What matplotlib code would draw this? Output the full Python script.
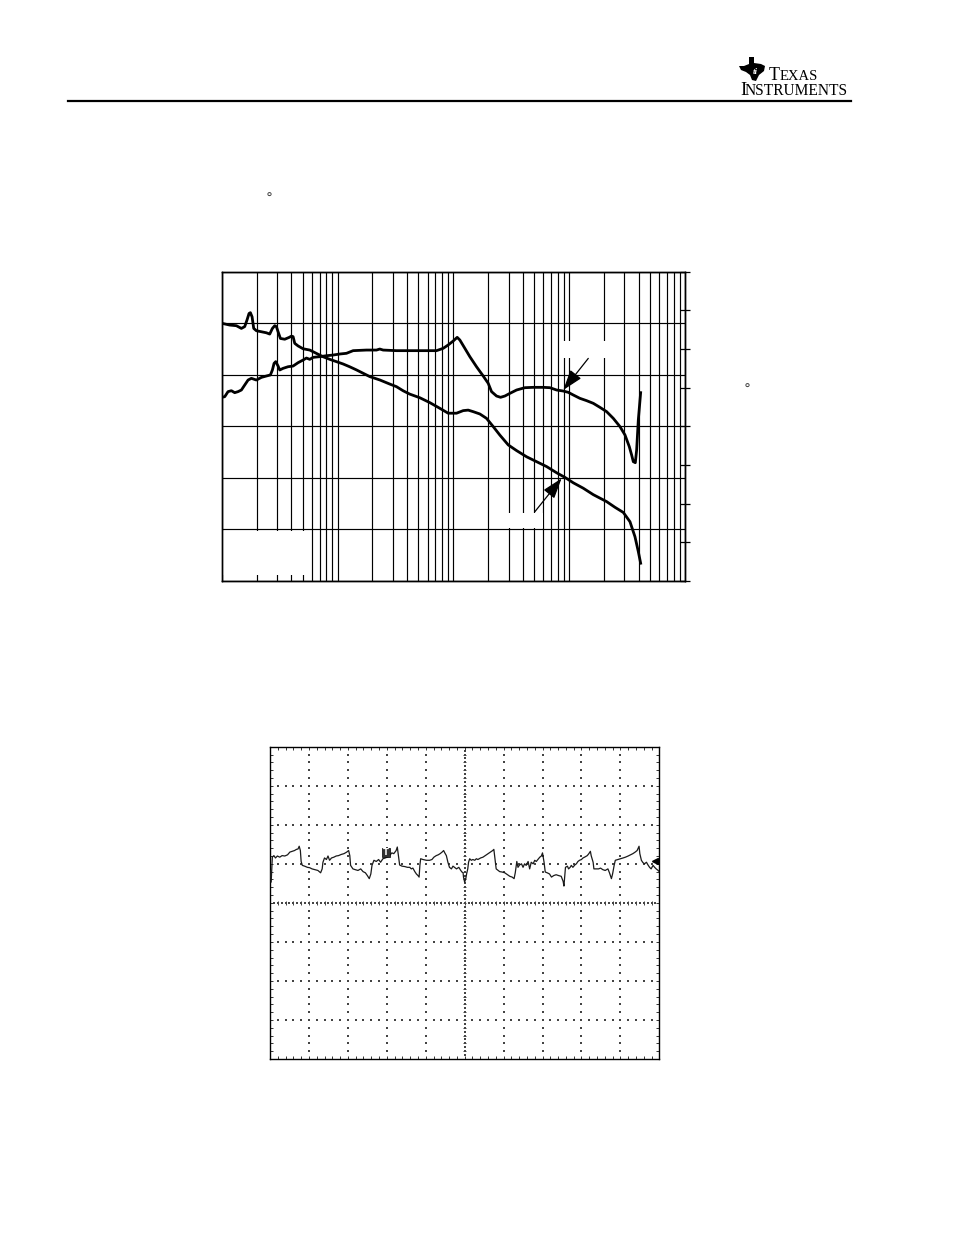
import numpy as np
import matplotlib
matplotlib.use('Agg')
import matplotlib.pyplot as plt
from matplotlib.patches import Rectangle, Polygon
from matplotlib.lines import Line2D
from matplotlib.ticker import LogLocator

W, H = 954, 1235

# Loop gain (dB) vs frequency (Hz)
gain_freq = [100, 117.2, 133.9, 147.9, 158.0, 165.5, 172.2, 176.9, 182.9, 189.0,
             199.3, 220.2, 243.2, 259.8, 274.0, 287.0, 296.7, 306.7, 321.3, 350.2,
             381.8, 399.9, 413.4, 427.3, 456.5, 504.3, 575.8, 657.5, 750.5, 857.0,
             978.6, 1117, 1276, 1457, 1663, 1899, 2317, 2828, 3228, 3686,
             4209, 5135, 6266, 7644, 9021, 10650, 12160, 13430, 14840, 16940,
             19340, 22090, 25220, 29770, 35140, 42870, 52300, 63810, 77850, 91900,
             108500, 132300, 161500, 210600, 248500, 293300, 334900, 369800, 395300, 414000]
gain_db = [40.0, 39.3, 39.05, 38.0, 38.7, 41.3, 43.8, 44.1, 42.5, 38.0,
           37.1, 36.7, 36.3, 35.8, 38.0, 39.05, 38.7, 36.7, 34.1, 33.8,
           34.5, 35.0, 34.8, 32.2, 31.2, 30.1, 29.6, 28.3, 27.0, 26.0,
           25.1, 24.2, 23.1, 21.9, 20.6, 19.3, 18.0, 16.4, 15.4, 13.8,
           12.5, 11.1, 9.2, 7.0, 5.1, 5.1, 6.1, 6.3, 5.7, 4.8,
           3.1, -0.1, -3.4, -7.2, -9.4, -11.8, -13.7, -15.6, -18.0, -19.8,
           -21.9, -24.0, -26.5, -29.2, -31.4, -33.4, -37.0, -42.8, -48.6, -53.1]

# Loop phase (deg) vs frequency (Hz)
phase_freq = [100, 106.2, 113.4, 121.2, 129.5, 138.4, 147.9, 158.0, 168.9, 180.4,
              199.3, 220.2, 243.2, 263.3, 274.0, 283.2, 292.8, 306.7, 317.0, 338.8,
              374.2, 413.4, 456.5, 504.3, 538.9, 575.8, 615.2, 702.5, 802.1, 915.9,
              1046, 1194, 1364, 1777, 2169, 2317, 2476, 3228, 4209, 5488,
              7155, 8171, 9021, 9966, 10790, 11380, 12570, 13880, 15850, 18100,
              20000, 21370, 23600, 25560, 27860, 30770, 35140, 41470, 48940, 59720,
              68190, 77850, 88900, 98200, 108500, 123800, 141400, 161500, 184400, 210600,
              240400, 274500, 303200, 330400, 346100, 357800, 372400, 382400, 395300, 414000]
phase_deg = [33.8, 34.5, 40.4, 41.5, 39.2, 40.4, 42.3, 48.1, 53.9, 55.9,
             53.9, 57.0, 58.6, 59.8, 65.6, 73.3, 75.3, 70.2, 65.6, 67.5,
             69.4, 70.2, 74.1, 77.2, 79.5, 78.0, 80.3, 81.1, 82.2, 83.0,
             84.2, 85.0, 88.1, 88.8, 88.8, 90.0, 88.8, 88.1, 88.1, 88.1,
             88.1, 90.8, 94.7, 99.3, 103.6, 100.5, 90.8, 81.1, 69.4, 58.6,
             50.1, 40.4, 35.3, 33.8, 35.3, 38.4, 42.3, 45.0, 45.4, 45.4,
             45.0, 42.3, 41.1, 39.6, 36.5, 32.6, 29.9, 26.8, 22.1, 17.1,
             9.3, -0.3, -10.0, -23.6, -33.3, -41.1, -42.3, -27.5, 7.4, 39.2]

# Output ripple scope trace (time in divisions, amplitude in divisions)
trace_t = [0.00, 0.02, 0.03, 0.06, 0.10, 0.14, 0.19, 0.25, 0.31, 0.38,
           0.45, 0.51, 0.57, 0.63, 0.68, 0.72, 0.75, 0.78, 0.80, 0.83,
           0.89, 0.96, 1.02, 1.08, 1.15, 1.23, 1.30, 1.34, 1.36, 1.40,
           1.45, 1.49, 1.53, 1.58, 1.64, 1.70, 1.76, 1.83, 1.90, 1.97,
           2.02, 2.05, 2.07, 2.13, 2.19, 2.26, 2.33, 2.39, 2.45, 2.50,
           2.55, 2.59, 2.62, 2.67, 2.73, 2.79, 2.84, 2.90, 2.96, 3.01,
           3.07, 3.13, 3.18, 3.24, 3.27, 3.30, 3.33,
           3.39, 3.46, 3.53, 3.59, 3.63, 3.67, 3.72, 3.76, 3.80, 3.83,
           3.85, 3.87, 3.93, 4.02, 4.10, 4.16, 4.21, 4.27, 4.32, 4.37,
           4.42, 4.46, 4.49, 4.53, 4.57, 4.61, 4.66, 4.70, 4.74, 4.79,
           4.85, 4.90, 4.93, 4.96, 4.97, 5.00, 5.03, 5.05, 5.08, 5.10,
           5.13, 5.17, 5.21, 5.26, 5.30, 5.34, 5.41, 5.47, 5.53, 5.60,
           5.67, 5.72, 5.75, 5.79, 5.81, 5.86, 5.90, 5.96, 6.03, 6.10,
           6.16, 6.22, 6.27, 6.30, 6.34, 6.37, 6.41, 6.46, 6.50, 6.54,
           6.58, 6.63, 6.67,
           6.71, 6.76, 6.80, 6.84, 6.88, 6.93, 6.97, 7.00, 7.04, 7.07,
           7.12, 7.18, 7.23, 7.29, 7.35, 7.41, 7.48, 7.53, 7.55, 7.57,
           7.59, 7.64, 7.67, 7.71, 7.74, 7.78, 7.83, 7.87, 7.91, 7.95,
           8.00, 8.04, 8.08, 8.15, 8.19, 8.23, 8.25, 8.30, 8.32, 8.38,
           8.44, 8.49, 8.55, 8.61, 8.68, 8.72, 8.77, 8.80, 8.84, 8.87,
           8.94, 9.01, 9.07, 9.13, 9.20, 9.26, 9.32, 9.38, 9.43, 9.48,
           9.50, 9.54, 9.58, 9.62, 9.67, 9.71, 9.75, 9.79, 9.84, 9.88,
           9.92, 9.97, 10.00]
trace_v = [0.83, 0.62, 0.53, 1.17, 1.21, 1.15, 1.20, 1.17, 1.21, 1.20,
           1.23, 1.30, 1.32, 1.34, 1.37, 1.38, 1.45, 1.34, 1.06, 0.96,
           0.94, 0.91, 0.90, 0.87, 0.85, 0.83, 0.77, 0.87, 1.04, 1.15,
           1.11, 1.20, 1.09, 1.15, 1.17, 1.20, 1.21, 1.24, 1.26, 1.30,
           1.34, 1.21, 0.96, 0.87, 0.85, 0.83, 0.87, 0.80, 0.77, 0.70,
           0.62, 0.74, 0.96, 1.09, 1.06, 1.11, 1.04, 1.13, 1.15, 1.17,
           1.21, 1.28, 1.26, 1.34, 1.43, 1.21, 0.97,
           0.94, 0.93, 0.91, 0.91, 0.87, 0.89, 0.80, 0.74, 0.70, 0.66,
           0.96, 1.13, 1.11, 1.09, 1.09, 1.11, 1.17, 1.21, 1.23, 1.26,
           1.30, 1.34, 1.28, 1.21, 1.04, 0.91, 0.87, 0.94, 0.91, 0.87,
           0.91, 0.83, 0.79, 0.77, 0.66, 0.53, 0.62, 0.74, 0.87, 1.04,
           1.13, 1.09, 1.11, 1.09, 1.13, 1.11, 1.15, 1.17, 1.21, 1.26,
           1.30, 1.34, 1.37, 1.04, 0.87, 0.83, 0.80, 0.79, 0.77, 0.72,
           0.68, 0.66, 0.62, 0.77, 1.06, 0.91, 0.97, 1.00, 0.91, 1.00,
           0.96, 1.06, 0.87,
           1.04, 1.00, 1.09, 1.06, 1.11, 1.17, 1.20, 1.28, 1.04, 0.79,
           0.77, 0.74, 0.66, 0.70, 0.72, 0.70, 0.68, 0.55, 0.43, 0.66,
           0.91, 0.94, 0.87, 0.91, 0.96, 0.91, 0.97, 1.00, 1.06, 1.09,
           1.11, 1.15, 1.17, 1.21, 1.26, 1.32, 1.21, 1.04, 0.87, 0.87,
           0.87, 0.89, 0.85, 0.83, 0.87, 0.77, 0.62, 0.74, 0.96, 1.09,
           1.11, 1.13, 1.15, 1.17, 1.20, 1.23, 1.26, 1.30, 1.34, 1.45,
           1.26, 1.09, 1.03, 1.00, 1.04, 0.97, 0.91, 0.87, 0.96, 0.91,
           0.87, 0.83, 0.80]


def fx(px):
    return px / W


def fy(py):
    return 1 - py / H


fig = plt.figure(figsize=(W / 100, H / 100), dpi=100)

# ---- page header: rule + TI logo ----
fig.add_artist(Line2D([fx(68), fx(851)], [fy(100.5), fy(100.5)], color='black', lw=1.6))
texas = [(749, 57), (754, 57), (754, 63), (761, 64), (765, 66), (764, 71), (759, 75),
         (756, 81), (752, 80), (750, 75), (746, 72), (741, 70), (739, 66), (744, 66), (749, 64)]
fig.add_artist(Polygon([(fx(a), fy(b)) for a, b in texas], closed=True,
                       facecolor='black', edgecolor='none', transform=fig.transFigure))
fig.text(fx(755), fy(72), 'ti', color='white', fontsize=6.5, style='italic',
         fontweight='bold', family='Liberation Serif', ha='center', va='center')
fig.text(fx(769), fy(80), 'T', fontsize=13, family='Liberation Serif', va='baseline')
fig.text(fx(779.5), fy(80), 'EXAS', fontsize=10.5, family='Liberation Serif', va='baseline')
fig.text(fx(740), fy(95), 'I', fontsize=13.5, family='Liberation Serif', va='baseline')
fig.text(fx(745), fy(95), 'NSTRUMENTS', fontsize=11.2, family='Liberation Serif', va='baseline')

fig.text(fx(269), fy(203), '°', fontsize=10, color='#444444', ha='center', va='baseline')
fig.text(fx(747), fy(394), '°', fontsize=10, color='#444444', ha='center', va='baseline')

# ---- Bode plot ----
ax = fig.add_axes([fx(221.7), fy(581), (685 - 221.7) / W, (581 - 271.7) / H])
ax.set_xscale('log')
ax.set_xlim(100, 1e6)
ax.set_ylim(-60, 60)
ax.set_yticks(np.arange(-60, 61, 20))
ax.xaxis.set_major_locator(LogLocator(base=10))
ax.xaxis.set_minor_locator(LogLocator(base=10, subs=np.arange(2, 10)))
ax.grid(True, which='both', axis='x', color='black', lw=0.85)
ax.grid(True, which='major', axis='y', color='black', lw=0.85)
ax.tick_params(which='both', length=0, labelleft=False, labelbottom=False)
for s in ax.spines.values():
    s.set_linewidth(1.0)

# blanked label areas
for (x0, y0, w, h) in [(0.002, 0.02, 0.188, 0.142), (0.735, 0.721, 0.094, 0.055),
                       (0.612, 0.171, 0.081, 0.049)]:
    ax.add_patch(Rectangle((x0, y0), w, h, transform=ax.transAxes,
                           facecolor='white', edgecolor='none', zorder=1.8))

ax.plot(gain_freq, gain_db, color='black', lw=2.0, zorder=3)
ax.annotate('', xy=(85960, -20.2), xytext=(50580, -33.1),
            arrowprops=dict(arrowstyle='-|>,head_length=0.9,head_width=0.3',
                            color='black', lw=0.9, mutation_scale=14, shrinkA=0, shrinkB=0))

ax2 = ax.twinx()
ax2.set_ylim(-180, 180)
ax2.set_yticks(np.arange(-180, 181, 45))
ax2.tick_params(axis='y', direction='inout', length=7.5, width=0.9, labelright=False)
ax2.tick_params(axis='x', which='both', length=0)
ax2.plot(phase_freq, phase_deg, color='black', lw=2.0, zorder=3)
ax2.annotate('', xy=(88900, 42.3), xytext=(146200, 79.1),
             arrowprops=dict(arrowstyle='-|>,head_length=0.9,head_width=0.3',
                             color='black', lw=0.9, mutation_scale=14, shrinkA=0, shrinkB=0))
for s in ax2.spines.values():
    s.set_linewidth(1.0)

# ---- scope capture ----
sx = fig.add_axes([fx(270), fy(1059), (659.3 - 270) / W, (1059 - 746.7) / H])
sx.set_xlim(0, 10)
sx.set_ylim(-4, 4)
sx.set_xticks([])
sx.set_yticks([])
sx.set_xticks(np.arange(0.2, 10, 0.2), minor=True)
sx.set_yticks(np.arange(-3.8, 4, 0.2), minor=True)
sx.tick_params(which='minor', direction='in', length=2.2, width=0.7,
               top=True, right=True, labelbottom=False, labelleft=False, color='#333333')
for s in sx.spines.values():
    s.set_linewidth(1.0)

dot_c = '#444444'
fine = np.arange(0.2, 10, 0.2)
fine_y = np.arange(-3.8, 4, 0.2)
for gx in [1, 2, 3, 4, 6, 7, 8, 9]:
    sx.scatter(np.full(len(fine_y), gx), fine_y, s=1.1, marker='s', color=dot_c, lw=0)
for gy in [-3, -2, -1, 1, 2, 3]:
    sx.scatter(fine, np.full(len(fine), gy), s=1.1, marker='s', color=dot_c, lw=0)
# centre graticule lines with sub-division ticks
half = np.arange(0.1, 10, 0.1)
half_y = np.arange(-3.9, 4, 0.1)
sx.scatter(half, np.zeros(len(half)), s=1.1, marker='s', color=dot_c, lw=0)
sx.scatter(np.full(len(half_y), 5), half_y, s=1.1, marker='s', color=dot_c, lw=0)
sx.vlines(fine, -0.06, 0.06, color=dot_c, lw=0.7)
sx.hlines(fine_y, 4.96, 5.04, color=dot_c, lw=0.7)

sx.plot(trace_t, trace_v, color='#1a1a1a', lw=0.9, zorder=3)

# trigger and reference markers
sx.add_patch(Rectangle((2.87, 1.17), 0.21, 0.23, facecolor='#333333', edgecolor='black',
                       lw=0.5, zorder=4))
sx.text(2.975, 1.285, 'T', color='white', fontsize=6, ha='center', va='center',
        fontweight='bold', zorder=5)
sx.plot([9.9], [1.07], marker='<', color='black', markersize=5, zorder=4)

fig.savefig('out.png', dpi=100)
